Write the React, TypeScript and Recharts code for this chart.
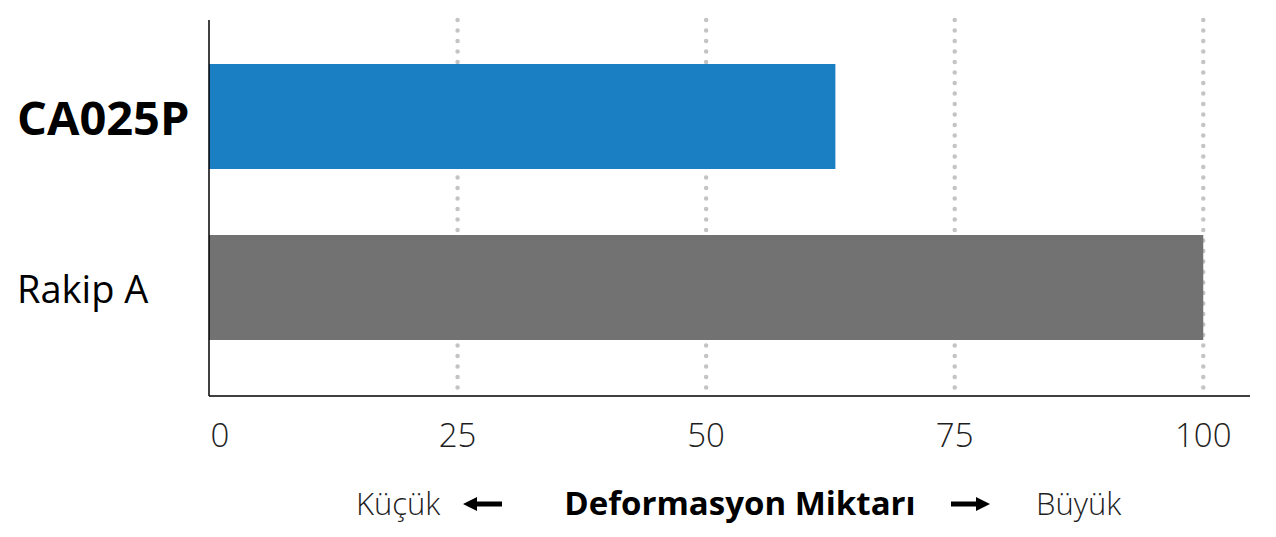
import React from "react";
import {
  BarChart,
  Bar,
  XAxis,
  YAxis,
  CartesianGrid,
  Cell,
  Label,
} from "recharts";

// Deformation amount per product (relative, competitor = 100)
const products = ["CA025P", "Rakip A"];
const deformation = [63, 100];
const barColors = ["#1b7fc4", "#737273"];
const xTicks = [0, 25, 50, 75, 100];
const gridValues = [25, 50, 75, 100];

const axisTitle = "Deformasyon Miktarı";
const lowLabel = "Küçük";
const highLabel = "Büyük";

const data = products.map((name, i) => ({ name, value: deformation[i] }));

const FONT = "'Open Sans', 'Noto Sans', sans-serif";

const XTick = (props: any) => {
  const { x, y, payload } = props;
  const shift = payload.value === 0 ? 11 : 0;
  return (
    <text
      x={x + shift}
      y={y + 51}
      textAnchor="middle"
      fontFamily={FONT}
      fontSize={33}
      fontWeight={300}
      fill="#1e1e1e"
    >
      {payload.value}
    </text>
  );
};

const YTick = (props: any) => {
  const { y, payload, index } = props;
  const bold = index === 0;
  return (
    <text
      x={17}
      y={y}
      dominantBaseline="central"
      textAnchor="start"
      fontFamily={FONT}
      fontSize={bold ? 47 : 38}
      fontWeight={bold ? 700 : 400}
      fill="#000"
    >
      {payload.value}
    </text>
  );
};

const AxisCaption = (props: any) => {
  const { viewBox } = props;
  const base = viewBox.y + 119; // text baseline
  const mid = base - 11; // arrow centre line
  return (
    <g fontFamily={FONT} fontSize={31}>
      <text x={356} y={base} fontWeight={300} fill="#1e1e1e">
        {lowLabel}
      </text>
      <path
        d={`M463 ${mid} L477 ${mid - 7} L477 ${mid - 2.5} L502 ${mid - 2.5} L502 ${mid + 2.5} L477 ${mid + 2.5} L477 ${mid + 7} Z`}
        fill="#000"
      />
      <text
        x={740}
        y={base}
        textAnchor="middle"
        fontWeight={700}
        fontSize={33}
        fill="#000"
      >
        {axisTitle}
      </text>
      <path
        d={`M990 ${mid} L976 ${mid - 7} L976 ${mid - 2.5} L951 ${mid - 2.5} L951 ${mid + 2.5} L976 ${mid + 2.5} L976 ${mid + 7} Z`}
        fill="#000"
      />
      <text x={1036} y={base} fontWeight={300} fill="#1e1e1e">
        {highLabel}
      </text>
    </g>
  );
};

export default function App() {
  return (
    <div style={{ position: "absolute", left: 0, top: 0, background: "#fff" }}>
      <BarChart
        width={1276}
        height={537}
        data={data}
        layout="vertical"
        margin={{ top: 20, right: 26, bottom: 0, left: 0 }}
      >
        <CartesianGrid
          horizontal={false}
          verticalValues={gridValues}
          stroke="#c4c4c4"
          strokeWidth={4.5}
          strokeDasharray="0 10.5"
          strokeLinecap="round"
        />
        <XAxis
          type="number"
          domain={[0, 104.7]}
          ticks={xTicks}
          allowDataOverflow
          axisLine={{ stroke: "#000", strokeWidth: 1.5 }}
          tickLine={false}
          tickSize={0}
          tickMargin={0}
          tick={<XTick />}
          height={141}
        >
          <Label content={<AxisCaption />} />
        </XAxis>
        <YAxis
          type="category"
          dataKey="name"
          width={209}
          axisLine={{ stroke: "#000", strokeWidth: 1.5 }}
          tickLine={false}
          tickSize={0}
          tickMargin={0}
          tick={<YTick />}
          padding={{ top: 11, bottom: 23 }}
        />
        <Bar dataKey="value" barSize={105} isAnimationActive={false}>
          {data.map((d, i) => (
            <Cell key={d.name} fill={barColors[i]} />
          ))}
        </Bar>
      </BarChart>
    </div>
  );
}
